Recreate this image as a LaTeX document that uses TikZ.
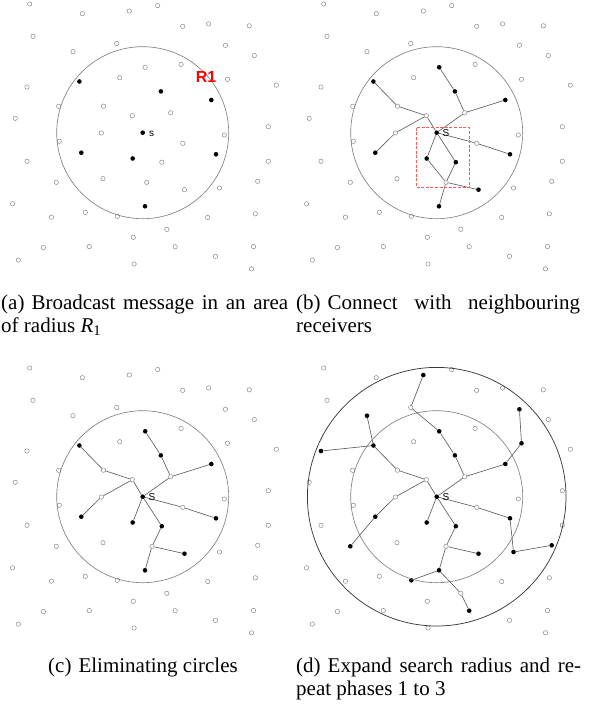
\documentclass[tikz,border=0pt]{standalone}
\usepackage{fontspec}
\setmainfont{Liberation Serif}
\newfontfamily\sfx{Liberation Sans}
\definecolor{ptgray}{HTML}{8A8A8A}
\definecolor{edgegray}{HTML}{5E5E5E}
\definecolor{ringgray}{HTML}{808080}
\definecolor{outerring}{HTML}{3A3A3A}
\definecolor{dashred}{HTML}{FF5A5A}
\tikzset{
  opn/.style={circle, draw=ptgray, fill=white, line width=0.5pt, inner sep=0pt, minimum size=4.4pt},
  fld/.style={circle, fill=black, draw=none, inner sep=0pt, minimum size=4.6pt},
  lnk/.style={draw=edgegray, line width=0.65pt},
  ring/.style={draw=ringgray, line width=0.65pt},
  outer/.style={draw=outerring, line width=0.75pt},
  reddash/.style={draw=dashred, line width=0.9pt, dash pattern=on 3pt off 1.6pt},
  slab/.style={font=\sfx\fontsize{10}{10}\selectfont, inner sep=0pt},
  rlab/.style={font=\sfx\bfseries\fontsize{16}{16}\selectfont, text=red, inner sep=0pt},
  captxt/.style={font=\fontsize{21}{23.5}\selectfont, inner sep=0pt, anchor=base west},
  captxtc/.style={font=\fontsize{21}{23.5}\selectfont, inner sep=0pt, anchor=base},
}
\def\allpts{0/142.7/132.7, 1/29.7/4, 2/82.3/13.7, 3/129.3/11, 4/33/36.3, 5/116.7/43.5, 6/73/51.7, 7/145.2/67.3, 8/119.7/77.7, 9/27/87, 10/58.7/106.3, 11/103.5/106.2, 12/132.3/115.7, 13/15.2/118.3, 14/101.3/133, 15/59.3/141.3, 16/27/161.3, 17/103/178.7, 18/146.7/182.3, 19/56.3/182.3, 20/12.6/203.8, 21/85.3/212.3, 22/51.4/217.2, 23/117.3/216.3, 24/133.3/237.3, 25/43.4/247.6, 26/89.3/246.6, 27/18.3/260.1, 28/134.1/264, 29/157.7/5.6, 30/182.7/26.3, 31/208.6/23.9, 32/249.3/25.8, 33/225.4/45.3, 34/254.3/55.6, 35/181.1/64.4, 36/227.5/79.3, 37/276.3/85.2, 38/170.7/112.8, 39/268.3/126.7, 40/224.3/135, 41/182.8/143.3, 42/268.3/161.3, 43/161.8/162.2, 44/184.5/189.7, 45/219.5/188, 46/257.7/181.3, 47/207.7/217.5, 48/255.3/213.8, 49/166.8/229.3, 50/175.2/246.7, 51/215.5/256.3, 52/253.5/246.5, 53/251.5/268.8, 54/79.4/81.5, 55/81.3/152.7, 56/132.7/158.5, 57/145/206.3, 58/160.9/91.4, 59/211.3/100, 60/216/154.3, 61/152/182.3}
% filled / open lists
\def\filla{0,54,55,56,57,58,59,60}
\def\opena{1,2,3,4,5,6,7,8,9,10,11,12,13,14,15,16,17,18,19,20,21,22,23,24,25,26,27,28,29,30,31,32,33,34,35,36,37,38,39,40,41,42,43,44,45,46,47,48,49,50,51,52,53}
\def\fillb{0,54,55,56,57,58,59,60,7,43,44}
\def\openb{1,2,3,4,5,6,8,9,10,11,12,13,14,15,16,17,19,20,21,22,23,24,25,26,27,28,29,30,31,32,33,34,35,36,37,38,39,40,41,42,45,46,47,48,49,50,51,52,53,61}
\def\filld{0,54,55,56,57,58,59,60,7,43,44,3,6,9,19,23,33,36,45,46,50}
\def\opend{1,2,4,5,8,10,11,12,13,14,15,16,17,20,21,22,24,25,26,27,28,29,30,31,32,34,35,37,38,39,40,41,42,47,48,49,51,52,53,61}
% edges
\def\edgesb{54/11, 11/12, 55/14, 14/12, 12/0, 0/56, 56/61, 61/57, 0/43, 43/61, 61/44, 0/41, 41/60, 7/58, 58/38, 38/59, 38/0}
\def\edgesc{54/11, 11/12, 55/14, 14/12, 12/0, 0/56, 61/57, 0/43, 43/61, 61/44, 0/41, 41/60, 7/58, 58/38, 38/59, 38/0}
\def\edgesd{54/11, 11/12, 55/14, 14/12, 12/0, 0/56, 61/57, 0/43, 43/61, 61/44, 0/41, 41/60, 7/58, 58/38, 38/59, 38/0, 3/5, 5/7, 6/54, 9/54, 55/19, 57/23, 57/49, 49/50, 33/36, 36/59, 60/45, 45/46}
\newcommand\panelpts[3]{%
  \foreach \i/\px/\py in \allpts {\coordinate (#1q\i) at (\px,\py);}
  \foreach \i in #3 {\node[opn] (#1\i) at (#1q\i) {};}
  \foreach \i in #2 {\node[fld] (#1\i) at (#1q\i) {};}
}
\newcommand\paneledges[2]{%
  \foreach \u/\v in #2 {\draw[lnk] (#1\u) -- (#1\v);}
}
\begin{document}
\begin{tikzpicture}[x=1pt, y=-1pt]
\useasboundingbox (0,0) rectangle (595,706);
% ---------- panel (a)
\begin{scope}
  \panelpts{a}{\filla}{\opena}
  \draw[ring] (a0.center) circle[radius=86];
  \node[slab] (as) at (151.7,133.6) {s};
  \node[rlab] (aR) at (206,76.7) {R1};
\end{scope}
% ---------- panel (b)
\begin{scope}[shift={(294,0)}]
  \panelpts{b}{\fillb}{\openb}
  \draw[ring] (b0.center) circle[radius=86];
  \paneledges{b}{\edgesb}
  \coordinate (rbA) at (122.3,127.7);
  \coordinate (rbC) at (175,187.3);
  \draw[reddash] (rbA) rectangle (rbC);
  \node[slab] (bs) at (152,133.4) {S};
\end{scope}
% ---------- panel (c)
\begin{scope}[shift={(0,364)}]
  \panelpts{c}{\fillb}{\openb}
  \draw[ring] (c0.center) circle[radius=86];
  \paneledges{c}{\edgesc}
  \node[slab] (cs) at (152,133.4) {S};
\end{scope}
% ---------- panel (d)
\begin{scope}[shift={(294,364)}]
  \panelpts{d}{\filld}{\opend}
  \draw[ring] (d0.center) circle[radius=86];
  \draw[outer] (d0.center) circle[radius=129.3];
  \paneledges{d}{\edgesd}
  \node[slab] (ds) at (152,133.4) {S};
\end{scope}
% ---------- captions
\node[captxt] (capa1) at (1,309.3) {\makebox[287pt][s]{(a)\hspace{7pt}Broadcast message in an area}};
\node[captxt] (capa2) at (1,332.8) {of radius \textit{R}\textsubscript{1}};
\node[captxt] (capb1) at (296,309.3) {\makebox[284pt][s]{(b)\hspace{7pt}Connect with neighbouring}};
\node[captxt] (capb2) at (296,332.8) {receivers};
\node[captxtc] (capc1) at (143,672.3) {(c)\hspace{7pt}Eliminating circles};
\node[captxt] (capd1) at (296,672.3) {\makebox[285pt][s]{(d)\hspace{7pt}Expand search radius and re-}};
\node[captxt] (capd2) at (296,695.8) {peat phases 1 to 3};
\end{tikzpicture}
\end{document}
